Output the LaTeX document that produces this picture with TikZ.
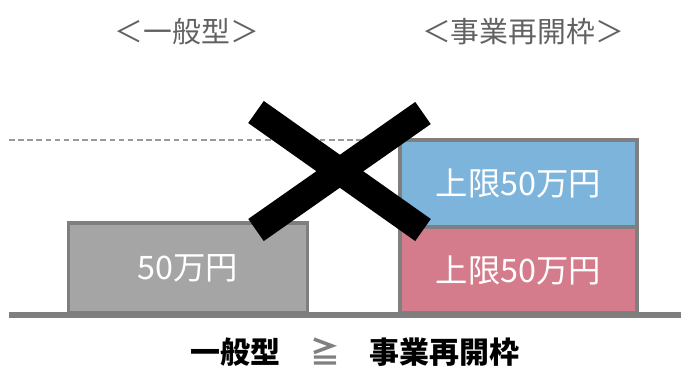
\documentclass[tikz,border=0pt]{standalone}
\usepackage{fontspec}
\setmainfont{Noto Sans CJK JP}
\usetikzlibrary{positioning}
\definecolor{barblue}{HTML}{7DB4DC}
\definecolor{barred}{HTML}{D47C8B}
\definecolor{bargray}{HTML}{A5A5A5}
\definecolor{edgegray}{HTML}{7F7F7F}

\begin{document}
\begin{tikzpicture}[x=0.025cm,y=-0.025cm,
         bar/.style = {draw=edgegray,line width=2.2pt,outer sep=0pt,
         text=white!88,font=\fontsize{23}{23}\selectfont},
         heading/.style = {text=black!62,font=\fontsize{20.5}{21}\selectfont},
         ground/.style = {draw=edgegray,line width=4.3pt},
         ceiling/.style = {draw=black!40,line width=1.2pt,dash pattern=on 4pt off 2.5pt},
         cross/.style = {line width=19.2pt}
]
   \useasboundingbox (0,0) rectangle (681,366);

   \coordinate (g0) at (9,315);
   \coordinate (g1) at (681,315);
   \coordinate (c0) at (9,140);
   \draw[ground] (g0) -- (g1);

   \node[bar,fill=bargray,minimum width=5.975cm,minimum height=2.25cm] (general) at (188,268) {50万円};
   \node[bar,fill=barred,minimum width=5.925cm,minimum height=2.15cm] (restart1) at (518.5,270) {上限50万円};
   \node[bar,fill=barblue,minimum width=5.925cm,minimum height=2.175cm,above=0pt of restart1] (restart2) {上限50万円};

   \draw[ceiling] (c0) -- (c0 -| restart2.west);

   \node[heading] (lgeneral) at (187,32) {＜一般型＞};
   \node[heading] (lrestart) at (523,32) {＜事業再開枠＞};
   %\node[heading,below=7.5cm of lgeneral] (summary) {};
   \node[font=\fontsize{21.3}{22}\selectfont\bfseries] (summary) at (355,352)
      {一般型　\textcolor{black!50}{≧}　事業再開枠};

   % the cross over the stacked bars
   \coordinate (x0) at (256,112);
   \coordinate (x1) at (423,230);
   \coordinate (x2) at (256,230);
   \coordinate (x3) at (423,113);
   \draw[cross] (x0) -- (x1) (x2) -- (x3);
\end{tikzpicture}
\end{document}
